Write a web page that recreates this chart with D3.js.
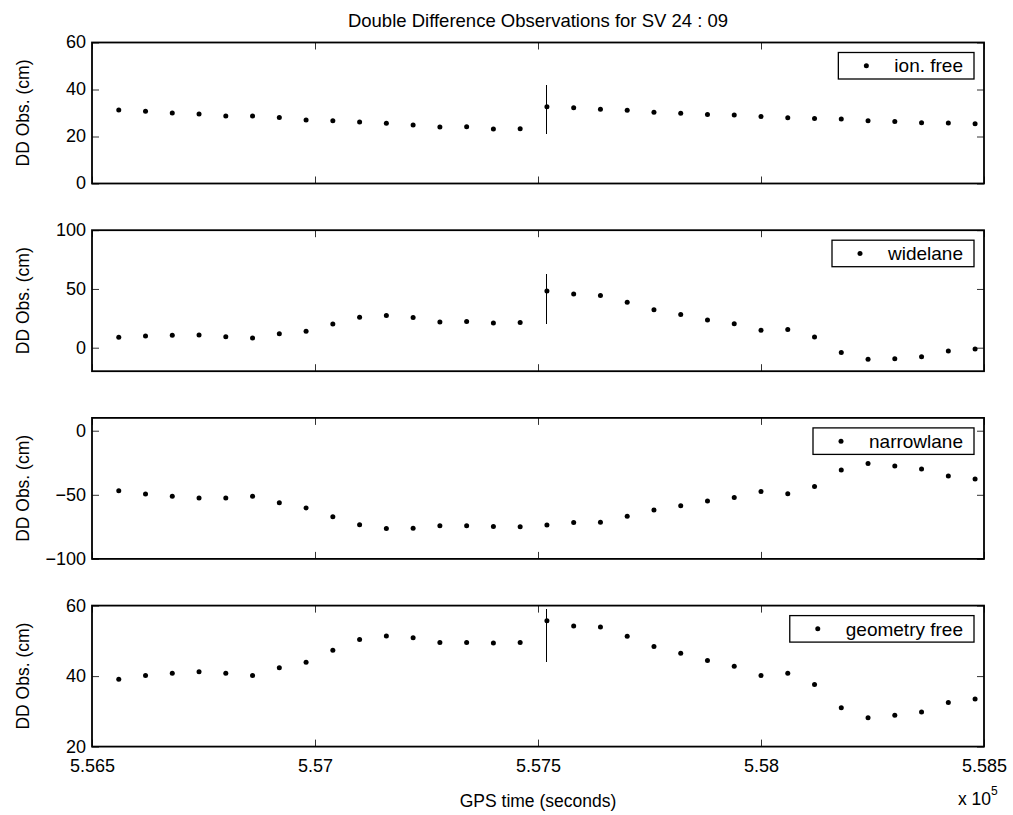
<!DOCTYPE html>
<html>
<head>
<meta charset="utf-8">
<script src="https://cdn.jsdelivr.net/npm/d3@7"></script>
<style>
  body { margin: 0; background: #fff; }
  text { font-family: "Liberation Sans", Arial, Helvetica, sans-serif; fill: #000; }
</style>
</head>
<body>
<svg id="chart" width="1013" height="815"></svg>
<script>
// GPS epochs (seconds of week), one every 60 s
const gpsTime = [
  556560, 556620, 556680, 556740, 556800, 556860, 556920, 556980, 557040, 557100, 557160,
  557220, 557280, 557340, 557400, 557460, 557520, 557580, 557640, 557700, 557760, 557820,
  557880, 557940, 558000, 558060, 558120, 558180, 558240, 558300, 558360, 558420, 558480
];

// Double difference observations (cm)
const ionFree = [
  31.3, 30.7, 30.0, 29.6, 28.7, 28.7, 28.1, 27.0, 26.7, 26.2, 25.6,
  24.9, 24.0, 24.2, 23.2, 23.3, 32.7, 32.2, 31.6, 31.2, 30.3, 29.9,
  29.4, 29.2, 28.5, 28.0, 27.7, 27.4, 26.7, 26.4, 25.8, 25.7, 25.4
];
const wideLane = [
  8.8, 9.9, 10.5, 10.8, 9.4, 8.2, 11.9, 13.9, 20.2, 25.9, 27.3,
  25.6, 21.9, 22.4, 21.0, 21.4, 48.3, 45.6, 44.5, 38.7, 32.3, 28.2,
  23.5, 20.4, 14.9, 15.5, 9.1, -4.1, -9.9, -9.4, -7.7, -2.8, -1.1
];
const narrowLane = [
  -46.8, -49.4, -51.2, -52.5, -52.5, -51.2, -56.1, -60.2, -67.2, -73.4, -76.2,
  -76.0, -74.2, -74.2, -74.7, -74.9, -73.5, -71.6, -71.4, -66.8, -61.9, -58.5,
  -54.9, -52.1, -47.4, -49.2, -43.6, -30.7, -25.5, -27.6, -29.9, -35.3, -37.6
];
const geometryFree = [
  39.1, 40.2, 40.8, 41.2, 40.8, 40.2, 42.4, 43.9, 47.3, 50.4, 51.4,
  50.9, 49.5, 49.5, 49.4, 49.5, 55.7, 54.2, 53.9, 51.3, 48.4, 46.5,
  44.4, 42.8, 40.2, 40.8, 37.6, 31.0, 28.2, 28.9, 29.8, 32.5, 33.5
];

const seriesNames = ["ion. free", "widelane", "narrowlane", "geometry free"];
const seriesValues = [ionFree, wideLane, narrowLane, geometryFree];
const yDomains = [[0, 60], [-20, 100], [-100, 10], [20, 60]];
const yTicks = [[0, 20, 40, 60], [0, 50, 100], [-100, -50, 0], [20, 40, 60]];
const xTicks = [556500, 557000, 557500, 558000, 558500];
const xDomain = [556500, 558500];

// cycle-slip flag: epoch index and vertical extent (cm) for each panel
const slipIndex = 16;
const slipRanges = [[20.9, 41.9], [20.4, 62.7], null, [43.9, 59.1]];

const titleText = "Double Difference Observations for SV 24 : 09";
const yLabelText = "DD Obs. (cm)";
const xLabelText = "GPS time (seconds)";

// ---- layout ----
const TICK_FONT = 18, LABEL_FONT = 17.5, LEGEND_FONT = 19, TITLE_FONT = 18.5;
const left = 92, right = 984;
const firstTop = 42.5, panelStep = 187.7, panelH = 141;
const tickLen = 7;

const svg = d3.select("#chart");
svg.append("rect").attr("width", 1013).attr("height", 815).attr("fill", "#fff");

const x = d3.scaleLinear().domain(xDomain).range([left, right]);
const xFmt = d => d3.format(".4~f")(d / 1e5);

svg.append("text")
  .attr("x", (left + right) / 2).attr("y", 27)
  .attr("text-anchor", "middle")
  .style("font-size", TITLE_FONT + "px")
  .text(titleText);

seriesValues.forEach((vals, p) => {
  const top = firstTop + p * panelStep;
  const bottom = top + panelH;
  const y = d3.scaleLinear().domain(yDomains[p]).range([bottom, top]);
  const g = svg.append("g");

  // inward ticks on all four sides
  const styleAxis = sel => {
    sel.select(".domain").remove();
    sel.selectAll(".tick line").attr("stroke", "#333").attr("stroke-width", 1);
    sel.selectAll(".tick text").style("font-size", TICK_FONT + "px").attr("fill", "#000");
  };

  g.append("g").attr("transform", `translate(${left},0)`)
    .call(d3.axisLeft(y).tickValues(yTicks[p]).tickSize(-tickLen).tickPadding(6).tickFormat(d3.format("d")))
    .call(styleAxis)
    .call(sel => sel.selectAll(".tick text").attr("dy", "0.3em"));
  g.append("g").attr("transform", `translate(${right},0)`)
    .call(d3.axisRight(y).tickValues(yTicks[p]).tickSize(-tickLen).tickFormat(""))
    .call(styleAxis);
  g.append("g").attr("transform", `translate(0,${top})`)
    .call(d3.axisTop(x).tickValues(xTicks).tickSize(-tickLen).tickFormat(""))
    .call(styleAxis);
  g.append("g").attr("transform", `translate(0,${bottom})`)
    .call(d3.axisBottom(x).tickValues(xTicks).tickSize(-tickLen).tickPadding(13)
      .tickFormat(p === seriesValues.length - 1 ? xFmt : ""))
    .call(styleAxis);

  // frame
  g.append("rect")
    .attr("x", left).attr("y", top).attr("width", right - left).attr("height", panelH)
    .attr("fill", "none").attr("stroke", "#000").attr("stroke-width", 1.8);

  // y label
  g.append("text")
    .attr("transform", `translate(29,${(top + bottom) / 2}) rotate(-90)`)
    .attr("text-anchor", "middle")
    .style("font-size", LABEL_FONT + "px")
    .text(yLabelText);

  // cycle-slip marker
  if (slipRanges[p]) {
    g.append("line")
      .attr("x1", x(gpsTime[slipIndex])).attr("x2", x(gpsTime[slipIndex]))
      .attr("y1", y(slipRanges[p][0])).attr("y2", y(slipRanges[p][1]))
      .attr("stroke", "#000").attr("stroke-width", 1)
      .attr("shape-rendering", "crispEdges");
  }

  // observations
  g.selectAll("circle.obs").data(vals).join("circle")
    .attr("class", "obs")
    .attr("cx", (d, i) => x(gpsTime[i]))
    .attr("cy", d => y(d))
    .attr("r", 2.5)
    .attr("fill", "#000");

  // legend
  const leg = g.append("g");
  const boxTop = top + 10, boxH = 26.5, boxRight = right - 10;
  const txt = leg.append("text")
    .attr("x", boxRight - 11).attr("y", boxTop + boxH / 2)
    .attr("dy", "0.35em")
    .attr("text-anchor", "end")
    .style("font-size", LEGEND_FONT + "px")
    .text(seriesNames[p]);
  const tw = txt.node().getComputedTextLength();
  const markerX = boxRight - 11 - tw - 28;
  leg.insert("rect", "text")
    .attr("x", markerX - 28).attr("y", boxTop)
    .attr("width", boxRight - (markerX - 28)).attr("height", boxH)
    .attr("fill", "#fff").attr("stroke", "#000").attr("stroke-width", 1.3);
  leg.append("circle")
    .attr("cx", markerX).attr("cy", boxTop + boxH / 2)
    .attr("r", 2.5).attr("fill", "#000");
});

// x label and exponent
svg.append("text")
  .attr("x", (left + right) / 2).attr("y", 807)
  .attr("text-anchor", "middle")
  .style("font-size", LABEL_FONT + "px")
  .text(xLabelText);

const expo = svg.append("text").attr("x", 958).attr("y", 805).style("font-size", LABEL_FONT + "px");
expo.append("tspan").text("x 10");
expo.append("tspan").attr("dy", -10).style("font-size", "12px").text("5");
</script>
</body>
</html>
